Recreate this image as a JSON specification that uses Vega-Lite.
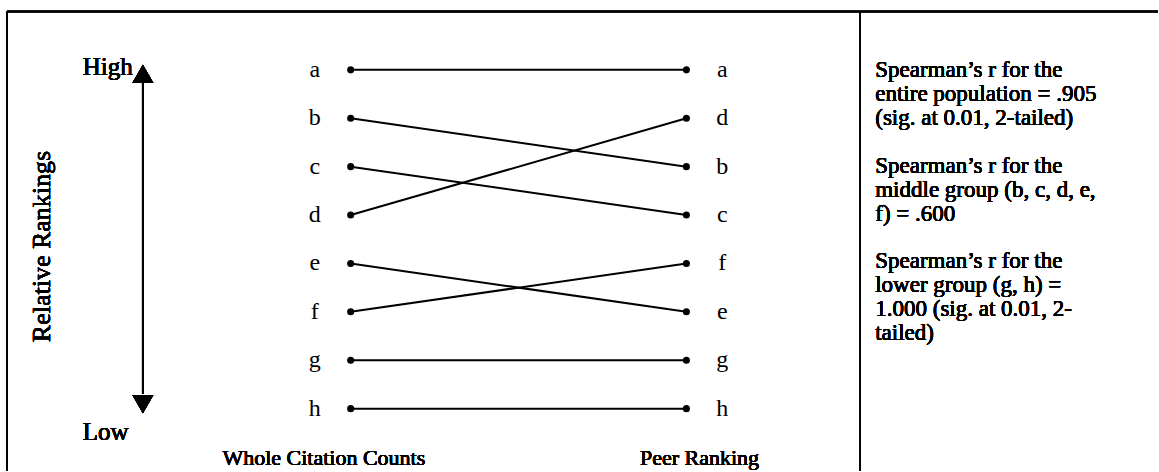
{
  "$schema": "https://vega.github.io/schema/vega-lite/v6.json",
  "width": 1159,
  "height": 472,
  "padding": 0,
  "autosize": {"type": "fit", "contains": "padding"},
  "background": "white",
  "config": {"view": {"stroke": null}, "text": {"font": "Liberation Serif", "fontWeight": "normal", "color": "black"}},
  "data": {"values": [
    {"item": "a", "wholeRank": 1, "peerRank": 1},
    {"item": "b", "wholeRank": 2, "peerRank": 3},
    {"item": "c", "wholeRank": 3, "peerRank": 4},
    {"item": "d", "wholeRank": 4, "peerRank": 2},
    {"item": "e", "wholeRank": 5, "peerRank": 6},
    {"item": "f", "wholeRank": 6, "peerRank": 5},
    {"item": "g", "wholeRank": 7, "peerRank": 7},
    {"item": "h", "wholeRank": 8, "peerRank": 8}
  ]},
  "encoding": {
    "x": {"type": "quantitative", "scale": {"domain": [-1.0446, 2.4048], "nice": false, "zero": false}, "axis": null},
    "y": {"type": "quantitative", "scale": {"domain": [-0.4433, 9.2887], "nice": false, "zero": false, "reverse": true}, "axis": null}
  },
  "layer": [
    {"mark": {"type": "rule", "stroke": "black", "strokeWidth": 1.5},
     "encoding": {"x": {"datum": -1.024}, "x2": {"datum": 2.4048}, "y": {"datum": -0.206}}},
    {"mark": {"type": "rule", "stroke": "black", "strokeWidth": 1.5},
     "encoding": {"x": {"datum": -1.024}, "y": {"datum": -0.206}, "y2": {"datum": 9.2887}}},
    {"mark": {"type": "rule", "stroke": "black", "strokeWidth": 1.2},
     "encoding": {"x": {"datum": 1.518}, "y": {"datum": -0.206}, "y2": {"datum": 9.2887}}},
    {"mark": {"type": "rule", "stroke": "black", "strokeWidth": 2},
     "encoding": {"x": {"datum": 0}, "x2": {"datum": 1}, "y": {"field": "wholeRank"}, "y2": {"field": "peerRank"}}},
    {"mark": {"type": "point", "filled": true, "color": "black", "size": 50, "opacity": 1},
     "encoding": {"x": {"datum": 0}, "y": {"field": "wholeRank"}}},
    {"mark": {"type": "point", "filled": true, "color": "black", "size": 50, "opacity": 1},
     "encoding": {"x": {"datum": 1}, "y": {"field": "peerRank"}}},
    {"mark": {"type": "text", "fontSize": 24, "fontWeight": "normal", "align": "center", "baseline": "middle"},
     "encoding": {"x": {"datum": -0.107}, "y": {"field": "wholeRank"}, "text": {"field": "item"}}},
    {"mark": {"type": "text", "fontSize": 24, "fontWeight": "normal", "align": "center", "baseline": "middle"},
     "encoding": {"x": {"datum": 1.107}, "y": {"field": "peerRank"}, "text": {"field": "item"}}},
    {"mark": {"type": "rule", "stroke": "black", "strokeWidth": 1.8},
     "encoding": {"x": {"datum": -0.619}, "y": {"datum": 1.268}, "y2": {"datum": 7.70}}},
    {"mark": {"type": "point", "shape": "triangle-up", "filled": true, "color": "black", "size": 441, "opacity": 1},
     "encoding": {"x": {"datum": -0.619}, "y": {"datum": 1.082}}},
    {"mark": {"type": "point", "shape": "triangle-down", "filled": true, "color": "black", "size": 441, "opacity": 1},
     "encoding": {"x": {"datum": -0.619}, "y": {"datum": 7.907}}},
    {"mark": {"type": "text", "text": "High", "fontSize": 25, "fontWeight": "normal", "align": "left", "baseline": "alphabetic"},
     "encoding": {"x": {"datum": -0.798}, "y": {"datum": 1.103}}},
    {"mark": {"type": "text", "text": "Low", "fontSize": 25, "fontWeight": "normal", "align": "left", "baseline": "alphabetic"},
     "encoding": {"x": {"datum": -0.798}, "y": {"datum": 8.649}}},
    {"mark": {"type": "text", "text": "Relative Rankings", "fontSize": 26, "fontWeight": "normal", "angle": 270, "align": "center", "baseline": "middle"},
     "encoding": {"x": {"datum": -0.92}, "y": {"datum": 4.65}}},
    {"mark": {"type": "text", "text": "Whole Citation Counts", "fontSize": 22, "fontWeight": "normal", "align": "center", "baseline": "middle"},
     "encoding": {"x": {"datum": -0.08}, "y": {"datum": 9.02}}},
    {"mark": {"type": "text", "text": "Peer Ranking", "fontSize": 22, "fontWeight": "normal", "align": "center", "baseline": "middle"},
     "encoding": {"x": {"datum": 1.039}, "y": {"datum": 9.02}}},
    {"mark": {"type": "text", "text": "Spearman’s r for the\nentire population = .905\n(sig. at 0.01, 2-tailed)", "lineBreak": "\n", "lineHeight": 24, "fontSize": 23, "fontWeight": "normal", "align": "left", "baseline": "middle"},
     "encoding": {"x": {"datum": 1.5625}, "y": {"datum": 1.0}}},
    {"mark": {"type": "text", "text": "Spearman’s r for the\nmiddle group (b, c, d, e,\nf) = .600", "lineBreak": "\n", "lineHeight": 24, "fontSize": 23, "fontWeight": "normal", "align": "left", "baseline": "middle"},
     "encoding": {"x": {"datum": 1.5625}, "y": {"datum": 2.979}}},
    {"mark": {"type": "text", "text": "Spearman’s r for the\nlower group (g, h) =\n1.000 (sig. at 0.01, 2-\ntailed)", "lineBreak": "\n", "lineHeight": 24, "fontSize": 23, "fontWeight": "normal", "align": "left", "baseline": "middle"},
     "encoding": {"x": {"datum": 1.5625}, "y": {"datum": 4.959}}}
  ]
}
